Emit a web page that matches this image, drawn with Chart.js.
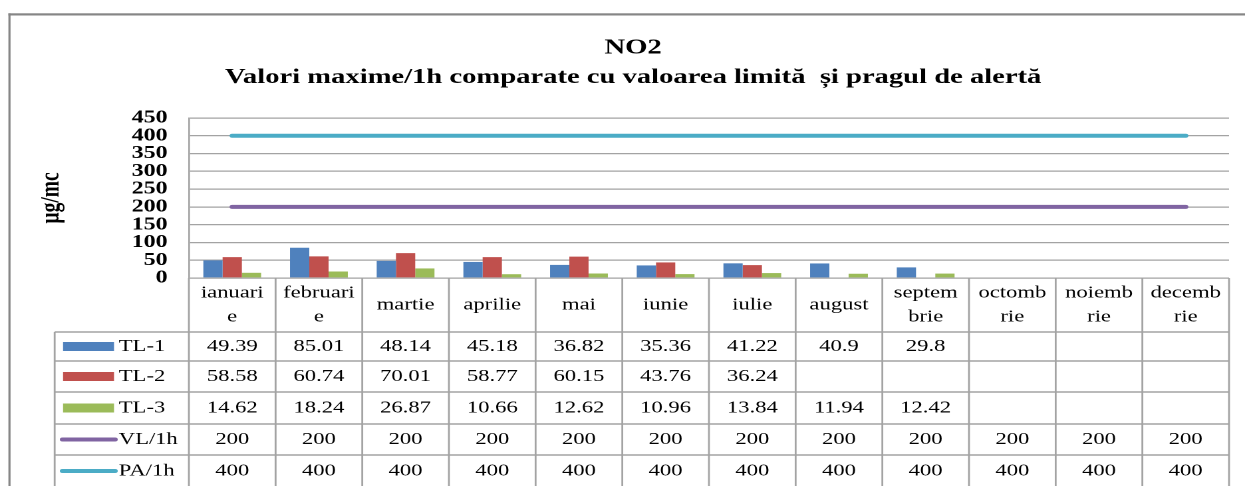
<!DOCTYPE html>
<html>
<head>
<meta charset="utf-8">
<script src="https://cdn.jsdelivr.net/npm/chart.js@4/dist/chart.umd.min.js"></script>
<style>
  html, body { margin: 0; padding: 0; background: #fff; overflow: hidden; }
</style>
</head>
<body>
<canvas id="c" width="936" height="486" style="display:block;width:1245px;height:486px"></canvas>
<script>
// ---- data ----
const categories = [['ianuari', 'e'], ['februari', 'e'], 'martie', 'aprilie', 'mai', 'iunie', 'iulie', 'august', ['septem', 'brie'], ['octomb', 'rie'], ['noiemb', 'rie'], ['decemb', 'rie']];
const tl1 = [49.39, 85.01, 48.14, 45.18, 36.82, 35.36, 41.22, 40.9, 29.8, null, null, null];
const tl2 = [58.58, 60.74, 70.01, 58.77, 60.15, 43.76, 36.24, null, null, null, null, null];
const tl3 = [14.62, 18.24, 26.87, 10.66, 12.62, 10.96, 13.84, 11.94, 12.42, null, null, null];
const vl1h = [200, 200, 200, 200, 200, 200, 200, 200, 200, 200, 200, 200];
const pa1h = [400, 400, 400, 400, 400, 400, 400, 400, 400, 400, 400, 400];
const seriesLabels = ['TL-1', 'TL-2', 'TL-3', 'VL/1h', 'PA/1h'];
const yMin = 0, yMax = 450, yStep = 50;
const titleLines = ['NO2', 'Valori maxime/1h comparate cu valoarea limită  și pragul de alertă'];
const yAxisTitle = 'µg/mc';

const SERIF = '"Liberation Serif", "Times New Roman", serif';
const GRID = '#a3a3a3';

// frame + background
const framePlugin = {
  id: 'frame',
  beforeDraw(chart) {
    const ctx = chart.ctx;
    ctx.save();
    ctx.fillStyle = '#fff';
    ctx.fillRect(0, 0, chart.width, chart.height);
    ctx.fillStyle = '#868686';
    ctx.fillRect(6.3, 13.3, chart.width, 2.2);
    ctx.fillRect(6.3, 13.3, 1.6, chart.height);
    ctx.restore();
  }
};

// data table under the plot, columns taken from the x scale
const tablePlugin = {
  id: 'dataTable',
  afterDraw(chart) {
    const ctx = chart.ctx, area = chart.chartArea, xs = chart.scales.x;
    const n = chart.data.labels.length;
    const colW = (area.right - area.left) / n;
    const rows = [0, 54, 83, 114, 146, 177, 209];
    const top = area.bottom;
    const legendLeft = 41.1;
    ctx.save();
    ctx.strokeStyle = GRID;
    ctx.lineWidth = 1.4;
    ctx.beginPath();
    for (let r = 1; r < rows.length; r++) {
      ctx.moveTo(legendLeft, top + rows[r]);
      ctx.lineTo(area.right, top + rows[r]);
    }
    for (let i = 0; i <= n; i++) {
      const x = area.left + i * colW;
      ctx.moveTo(x, top);
      ctx.lineTo(x, top + rows[rows.length - 1]);
    }
    ctx.moveTo(legendLeft, top + rows[1]);
    ctx.lineTo(legendLeft, top + rows[rows.length - 1]);
    ctx.stroke();

    ctx.fillStyle = '#000';
    ctx.font = '17px ' + SERIF;
    ctx.textAlign = 'center';
    ctx.textBaseline = 'middle';
    // header: category labels
    chart.data.labels.forEach((c, i) => {
      const cx = xs.getPixelForValue(i);
      const lines = Array.isArray(c) ? c : [c];
      const mid = top + rows[1] / 2;
      lines.forEach((t, k) => ctx.fillText(t, cx, mid + (k - (lines.length - 1) / 2) * 24));
    });
    // series rows
    chart.data.datasets.forEach((ds, r) => {
      const cy = top + (rows[r + 1] + rows[r + 2]) / 2;
      ctx.textAlign = 'center';
      ds.data.forEach((v, i) => {
        if (v !== null && v !== undefined) ctx.fillText(String(v), xs.getPixelForValue(i), cy);
      });
      // legend key
      if (ds.type === 'line') {
        ctx.strokeStyle = ds.borderColor;
        ctx.lineWidth = 4;
        ctx.lineCap = 'round';
        ctx.beginPath();
        ctx.moveTo(47, cy);
        ctx.lineTo(86.5, cy);
        ctx.stroke();
      } else {
        ctx.fillStyle = ds.backgroundColor;
        ctx.fillRect(47.4, cy - 4.5, 38.3, 9);
      }
      ctx.fillStyle = '#000';
      ctx.textAlign = 'left';
      ctx.fillText(ds.label, 89.3, cy);
    });
    ctx.restore();
  }
};

new Chart(document.getElementById('c'), {
  data: {
    labels: categories,
    datasets: [
      { type: 'bar', label: seriesLabels[0], data: tl1, backgroundColor: '#4F81BD', categoryPercentage: 0.667, barPercentage: 1 },
      { type: 'bar', label: seriesLabels[1], data: tl2, backgroundColor: '#C0504D', categoryPercentage: 0.667, barPercentage: 1 },
      { type: 'bar', label: seriesLabels[2], data: tl3, backgroundColor: '#9BBB59', categoryPercentage: 0.667, barPercentage: 1 },
      { type: 'line', label: seriesLabels[3], data: vl1h, borderColor: '#8064A2', backgroundColor: '#8064A2', borderWidth: 4, borderCapStyle: 'round', pointRadius: 0, fill: false },
      { type: 'line', label: seriesLabels[4], data: pa1h, borderColor: '#4BACC6', backgroundColor: '#4BACC6', borderWidth: 4, borderCapStyle: 'round', pointRadius: 0, fill: false }
    ]
  },
  options: {
    responsive: false,
    devicePixelRatio: 2,
    animation: false,
    events: [],
    layout: { padding: { left: 28, right: 12, top: 0, bottom: 208 } },
    plugins: {
      legend: { display: false },
      tooltip: { enabled: false },
      title: {
        display: true,
        text: titleLines,
        color: '#000',
        font: { family: SERIF, size: 21.5, weight: 'bold', lineHeight: 1.38 },
        padding: { top: 33, bottom: 25.6 }
      }
    },
    scales: {
      x: {
        display: false,
        offset: true,
        afterFit(s) { s.height = 0; }
      },
      y: {
        min: yMin, max: yMax,
        border: { display: true, color: GRID, width: 1.3 },
        grid: { color: GRID, lineWidth: 1.2, drawTicks: false },
        ticks: {
          stepSize: yStep,
          autoSkip: false,
          padding: 16,
          color: '#000',
          font: { family: SERIF, size: 18, weight: 'bold', lineHeight: 1 }
        },
        title: {
          display: true,
          text: yAxisTitle,
          color: '#000',
          padding: { top: 0, bottom: 0 },
          font: { family: SERIF, size: 19.5, weight: 'bold', lineHeight: 1.1 }
        },
        afterFit(s) { s.width = 114; }
      }
    }
  },
  plugins: [framePlugin, tablePlugin]
});
</script>
</body>
</html>
